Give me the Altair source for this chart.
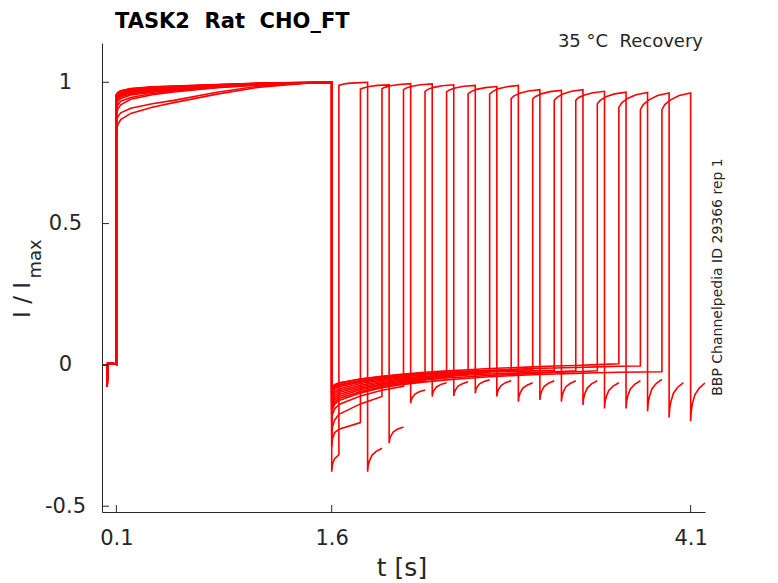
import altair as alt
import pandas as pd

# ---------------- data ----------------
# holding baseline before the first pulse (same in every sweep)
base_t = [0.0, 0.034, 0.036, 0.04, 0.08, 0.1]
base_v = [0.0, 0.0, -0.077, 0.006, 0.005, 0.002]

# first (conditioning) pulse, 0.1 s -> 1.6 s
pulse1_t = [0.1, 0.11, 0.13, 0.2, 0.35, 0.5, 0.8, 1.1, 1.4, 1.6]
pulse1 = [
    [0.825, 0.850, 0.868, 0.890, 0.912, 0.928, 0.958, 0.983, 0.996, 1.0],
    [0.862, 0.878, 0.892, 0.908, 0.924, 0.936, 0.965, 0.987, 0.997, 1.0],
    [0.885, 0.905, 0.920, 0.940, 0.956, 0.966, 0.981, 0.991, 0.997, 1.0],
    [0.903, 0.920, 0.933, 0.946, 0.960, 0.969, 0.982, 0.991, 0.997, 1.0],
    [0.920, 0.933, 0.943, 0.955, 0.965, 0.972, 0.983, 0.992, 0.997, 1.0],
    [0.930, 0.940, 0.949, 0.959, 0.968, 0.974, 0.984, 0.992, 0.997, 1.0],
    [0.935, 0.944, 0.952, 0.962, 0.970, 0.976, 0.985, 0.993, 0.998, 1.0],
    [0.940, 0.948, 0.955, 0.964, 0.972, 0.977, 0.986, 0.993, 0.998, 1.0],
    [0.944, 0.951, 0.958, 0.967, 0.974, 0.979, 0.987, 0.994, 0.998, 1.0],
    [0.947, 0.954, 0.960, 0.969, 0.976, 0.980, 0.988, 0.994, 0.998, 1.0],
    [0.950, 0.956, 0.962, 0.971, 0.977, 0.981, 0.988, 0.995, 0.998, 1.0],
    [0.952, 0.958, 0.964, 0.973, 0.979, 0.983, 0.989, 0.995, 0.998, 1.0],
    [0.954, 0.960, 0.966, 0.974, 0.980, 0.984, 0.990, 0.996, 0.999, 1.0],
    [0.955, 0.962, 0.968, 0.976, 0.982, 0.985, 0.991, 0.996, 0.999, 1.0],
    [0.956, 0.963, 0.969, 0.977, 0.983, 0.986, 0.991, 0.997, 0.999, 1.0],
    [0.957, 0.964, 0.970, 0.978, 0.984, 0.987, 0.992, 0.997, 0.999, 1.0],
]

# tail current after the first pulse, up to the start of each second pulse
tail1_t = [1.6, 1.605, 1.62, 1.65, 1.8, 1.95, 2.1, 2.25, 2.4, 2.55, 2.7,
           2.85, 3.0, 3.15, 3.3, 3.45, 3.6, 3.75, 3.9]
tail1 = [
    [-0.378, -0.352, -0.332, -0.318],
    [-0.290, -0.262, -0.240, -0.228, -0.204],
    [-0.250, -0.220, -0.195, -0.175, -0.138, -0.112],
    [-0.200, -0.176, -0.156, -0.140, -0.110, -0.090, -0.076],
    [-0.170, -0.150, -0.133, -0.119, -0.094, -0.077, -0.065, -0.056],
    [-0.150, -0.132, -0.117, -0.105, -0.083, -0.068, -0.057, -0.050, -0.044],
    [-0.130, -0.114, -0.101, -0.091, -0.072, -0.059, -0.049, -0.043, -0.038,
     -0.034],
    [-0.120, -0.106, -0.094, -0.084, -0.066, -0.054, -0.046, -0.040, -0.035,
     -0.031, -0.028],
    [-0.100, -0.088, -0.078, -0.070, -0.055, -0.045, -0.038, -0.033, -0.029,
     -0.026, -0.023, -0.021],
    [-0.090, -0.079, -0.070, -0.063, -0.050, -0.041, -0.034, -0.030, -0.026,
     -0.023, -0.021, -0.019, -0.017],
    [-0.110, -0.097, -0.086, -0.077, -0.061, -0.050, -0.042, -0.036, -0.032,
     -0.029, -0.025, -0.023, -0.021, -0.019],
    [-0.140, -0.123, -0.109, -0.098, -0.077, -0.063, -0.053, -0.046, -0.041,
     -0.036, -0.032, -0.029, -0.027, -0.024, -0.021],
    [-0.160, -0.141, -0.125, -0.112, -0.088, -0.072, -0.061, -0.053, -0.046,
     -0.042, -0.037, -0.034, -0.030, -0.027, -0.024, -0.021],
    [-0.095, -0.084, -0.074, -0.066, -0.050, -0.040, -0.032, -0.026, -0.021,
     -0.017, -0.013, -0.010, -0.007, -0.004, -0.002, 0.001, 0.004],
    [-0.105, -0.092, -0.082, -0.073, -0.057, -0.046, -0.038, -0.032, -0.027,
     -0.023, -0.019, -0.016, -0.013, -0.011, -0.009, -0.007, -0.005, -0.004],
    [-0.180, -0.158, -0.140, -0.126, -0.099, -0.081, -0.069, -0.060, -0.053,
     -0.047, -0.042, -0.038, -0.035, -0.032, -0.030, -0.028, -0.026, -0.025,
     -0.024],
]

# second (test) pulse: start times and levels
p2_start = [1.65, 1.8, 1.95, 2.1, 2.25, 2.4, 2.55, 2.7, 2.85, 3.0, 3.15, 3.3,
            3.45, 3.6, 3.75, 3.9]
p2_off = [0.0, 0.02, 0.06, 0.12, 0.2]
pulse2 = [
    [0.989, 0.992, 0.996, 0.998, 1.000],
    [0.976, 0.980, 0.985, 0.989, 0.991],
    [0.977, 0.982, 0.988, 0.992, 0.995],
    [0.974, 0.980, 0.986, 0.991, 0.994],
    [0.968, 0.975, 0.982, 0.988, 0.991],
    [0.966, 0.973, 0.980, 0.986, 0.989],
    [0.959, 0.967, 0.975, 0.981, 0.985],
    [0.958, 0.967, 0.977, 0.984, 0.989],
    [0.942, 0.952, 0.961, 0.969, 0.974],
    [0.941, 0.950, 0.959, 0.967, 0.971],
    [0.936, 0.947, 0.959, 0.968, 0.974],
    [0.936, 0.946, 0.955, 0.963, 0.968],
    [0.924, 0.936, 0.949, 0.959, 0.965],
    [0.911, 0.927, 0.943, 0.956, 0.964],
    [0.903, 0.921, 0.938, 0.953, 0.962],
    [0.903, 0.921, 0.938, 0.953, 0.962],
]

# tail current after the second pulse (0.1 s)
tail2_off = [0.0, 0.004, 0.012, 0.03, 0.06, 0.1]
tail2 = [
    [-0.378, -0.357, -0.341, -0.320, -0.306, -0.295],
    [-0.277, -0.263, -0.251, -0.237, -0.227, -0.220],
    [-0.136, -0.124, -0.115, -0.103, -0.095, -0.089],
    [-0.112, -0.100, -0.090, -0.078, -0.069, -0.063],
    [-0.110, -0.098, -0.088, -0.075, -0.067, -0.060],
    [-0.100, -0.088, -0.079, -0.067, -0.059, -0.053],
    [-0.112, -0.098, -0.087, -0.073, -0.063, -0.056],
    [-0.130, -0.113, -0.100, -0.083, -0.072, -0.063],
    [-0.124, -0.107, -0.093, -0.076, -0.065, -0.056],
    [-0.130, -0.112, -0.097, -0.078, -0.066, -0.056],
    [-0.142, -0.120, -0.103, -0.082, -0.067, -0.056],
    [-0.154, -0.131, -0.113, -0.090, -0.075, -0.063],
    [-0.154, -0.130, -0.110, -0.085, -0.069, -0.056],
    [-0.165, -0.137, -0.114, -0.085, -0.066, -0.051],
    [-0.186, -0.155, -0.131, -0.100, -0.079, -0.063],
    [-0.199, -0.165, -0.138, -0.105, -0.082, -0.064],
]

x_ticks = [0.1, 1.6, 4.1]
y_ticks = [-0.5, 0, 0.5, 1]

# ---------------- table for the library ----------------
rows = []
for k in range(len(p2_start)):
    seq = []
    seq += list(zip(base_t, base_v))
    seq += list(zip(pulse1_t, pulse1[k]))
    seq += list(zip(tail1_t, tail1[k]))
    s = p2_start[k]
    seq += [(round(s + o, 4), v) for o, v in zip(p2_off, pulse2[k])]
    e = s + p2_off[-1]
    seq += [(round(e + o, 4), v) for o, v in zip(tail2_off, tail2[k])]
    for i, (t, v) in enumerate(seq):
        rows.append({"trace": k, "order": i, "t": t, "v": v})
df = pd.DataFrame(rows)

W, H = 603, 469
AX = "#262626"
FONT = "DejaVu Sans"

lines = alt.Chart(df).mark_line(color="#ff0000", strokeWidth=1.6, clip=True).encode(
    x=alt.X("t:Q",
            scale=alt.Scale(domain=[0, 4.2], nice=False, zero=False),
            axis=alt.Axis(values=x_ticks, title=None, grid=False, ticks=False,
                          tickSize=0, format=".1f", labelFont=FONT,
                          labelFontSize=21, labelColor=AX, domainColor=AX,
                          labelPadding=32, labelBaseline="alphabetic",
                          labelFlush=False)),
    y=alt.Y("v:Q",
            scale=alt.Scale(domain=[-0.5205, 1.139], nice=False, zero=False),
            axis=alt.Axis(values=y_ticks, title=None, grid=False, ticks=False,
                          tickSize=0, labelExpr="'' + datum.value",
                          labelFont=FONT, labelFontSize=21, labelColor=AX,
                          domainColor=AX, labelPadding=37, labelAlign="center",
                          labelBaseline="middle", labelFlush=False)),
    detail="trace:N",
    order="order:Q",
)

xt = alt.Chart(pd.DataFrame({"t": x_ticks})).mark_rule(color=AX, strokeWidth=1).encode(
    x="t:Q", y=alt.value(H), y2=alt.value(H - 7))
yt = alt.Chart(pd.DataFrame({"v": y_ticks})).mark_rule(color=AX, strokeWidth=1).encode(
    y="v:Q", x=alt.value(0), x2=alt.value(7))


def txt(s, x, y, size, weight="normal", align="left", angle=0):
    return alt.Chart(pd.DataFrame({"s": [s]})).mark_text(
        font=FONT, fontSize=size, fontWeight=weight, align=align,
        baseline="alphabetic", angle=angle,
        color="#000000" if weight == "bold" else AX
    ).encode(text="s:N", x=alt.value(x), y=alt.value(y))


title = txt("TASK2\u00a0\u00a0Rat\u00a0\u00a0CHO_FT", 13, -15, 21, weight="bold")
cond = txt("35 \u00b0C\u00a0\u00a0Recovery", 601, 4, 18, align="right")
side = txt("BBP Channelpedia ID 29366 rep 1", 620, 234, 14, align="center", angle=270)
ylab = txt("I / I", -72, 257, 23, align="center", angle=270)
ysub = txt("max", -61, 216, 18, align="center", angle=270)
xlab = txt("t [s]", 300, 533, 25, align="center")

chart = alt.layer(lines, xt, yt, title, cond, side, ylab, ysub, xlab).properties(
    width=W, height=H,
    autosize=alt.AutoSizeParams(type="none"),
    padding={"left": 94, "top": 35, "right": 65, "bottom": 70},
).configure_view(strokeWidth=0, stroke="transparent")

chart.save("out.html", embed_options={"renderer": "svg", "actions": False})
